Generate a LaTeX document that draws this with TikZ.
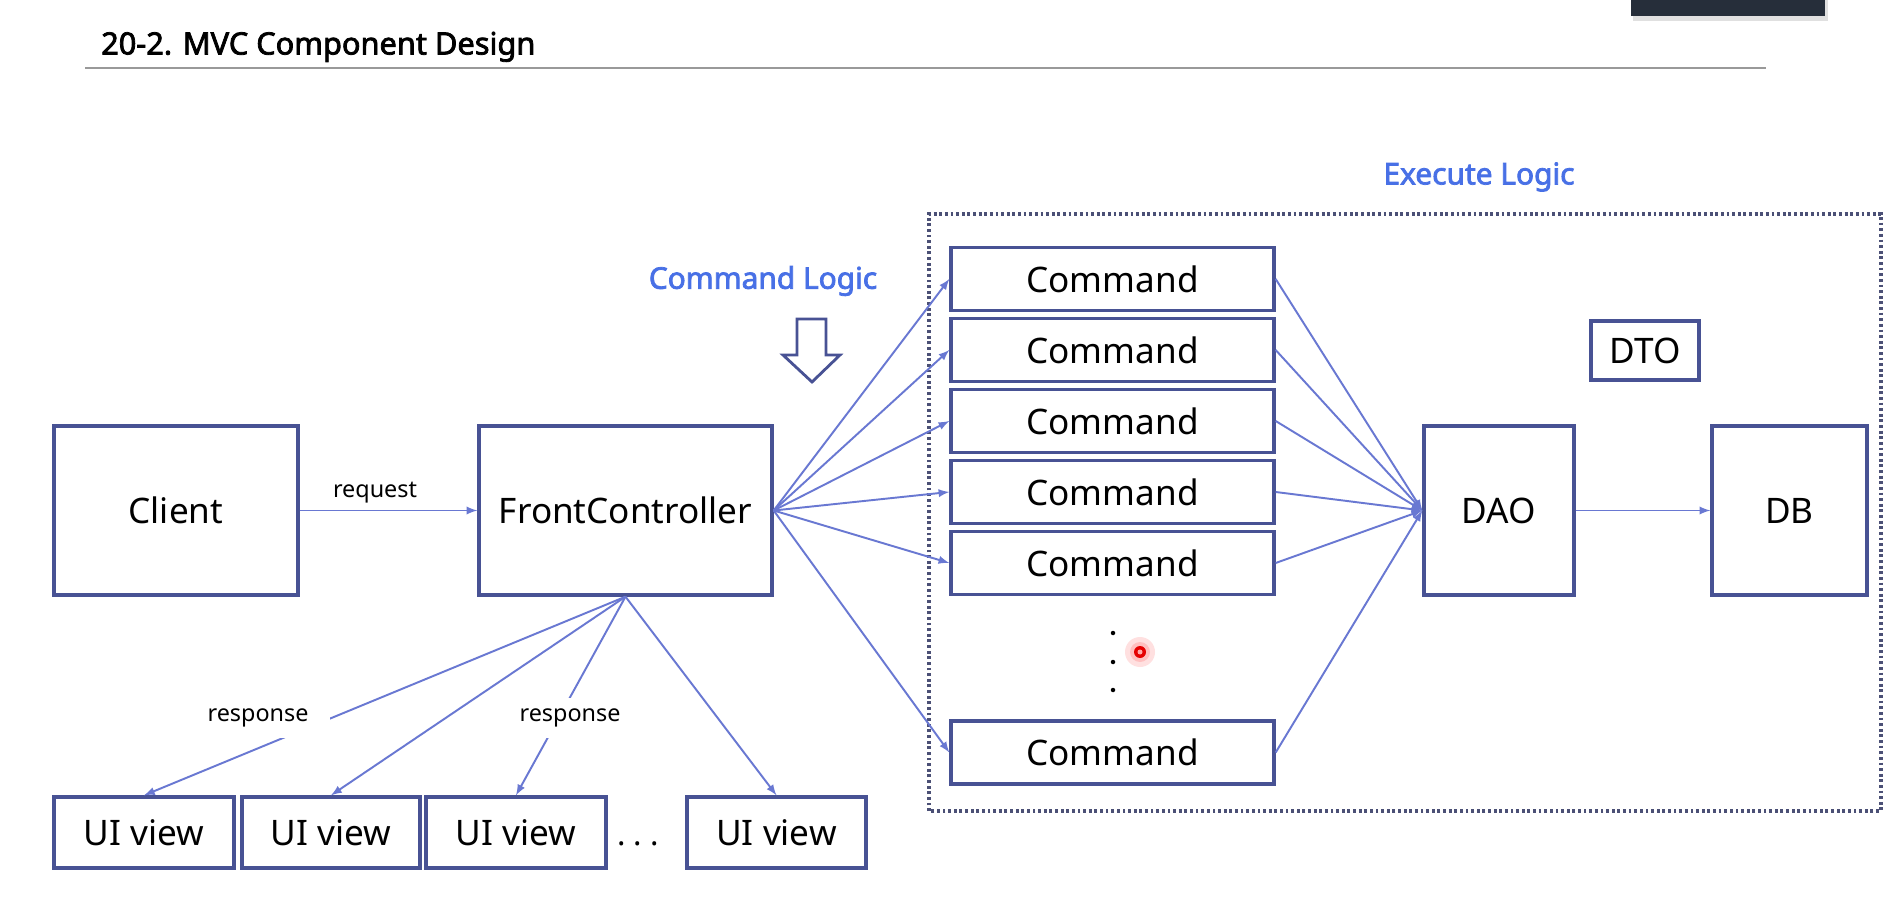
\documentclass[tikz,border=0pt]{standalone}
\usepackage{fontspec}
\setmainfont{Noto Sans}
\newfontfamily\heavysans{Noto Sans}[FakeBold=2.5]
\usetikzlibrary{arrows}
\definecolor{boxline}{RGB}{72,82,148}
\definecolor{arrowline}{RGB}{105,120,210}
\definecolor{logicblue}{RGB}{72,112,230}
\definecolor{dotline}{RGB}{75,80,118}
\definecolor{tipbar}{RGB}{38,46,58}

\begin{document}
\begin{tikzpicture}[
  comp/.style={draw=boxline,line width=1.9pt,fill=white,inner sep=0pt,font=\fontsize{20}{24}\selectfont},
  conn/.style={draw=arrowline,line width=1.1pt,-latex},
  msg/.style={inner xsep=10pt,inner ysep=6pt,font=\fontsize{13.3}{16}\selectfont},
  logic/.style={text=logicblue,font=\heavysans\fontsize{17}{20}\selectfont}]
\fill[white] (0,0) rectangle (37.98,18.32);
% heading
\node[anchor=base west,font=\heavysans\fontsize{17.5}{20}\selectfont] (title) at (1.9,17.23) {20-2. MVC Component Design};
\draw[gray!80,line width=1.4pt] (1.70,16.96) -- (35.32,16.96);
\fill[black!12] (32.66,17.90) rectangle (36.56,18.32);
\fill[tipbar] (32.62,18.0) rectangle (36.50,18.32);

% execute logic area
\draw[dotline,line width=1.8pt,dash pattern=on 1.6pt off 1.6pt] (18.58,2.10) rectangle (37.62,14.04);
\node[logic] (exec) at (29.58,14.78) {Execute Logic};
\node[logic] (cmdlogic) at (15.26,12.70) {Command Logic};
\draw[boxline,line width=1.6pt,fill=white] (15.94,11.94) -- (16.52,11.94) -- (16.52,11.22) -- (16.80,11.22) -- (16.24,10.68) -- (15.66,11.22) -- (15.94,11.22) -- cycle;

\node[comp,minimum width=4.88cm,minimum height=3.38cm] (client) at (3.52,8.11) {Client};
\node[comp,minimum width=5.86cm,minimum height=3.38cm] (fc) at (12.51,8.11) {FrontController};

\node[comp,minimum width=6.46cm,minimum height=1.26cm] (cmd1) at (22.25,12.74) {Command};
\node[comp,minimum width=6.46cm,minimum height=1.26cm] (cmd2) at (22.25,11.32) {Command};
\node[comp,minimum width=6.46cm,minimum height=1.26cm] (cmd3) at (22.25,9.90) {Command};
\node[comp,minimum width=6.46cm,minimum height=1.26cm] (cmd4) at (22.25,8.48) {Command};
\node[comp,minimum width=6.46cm,minimum height=1.26cm] (cmd5) at (22.25,7.06) {Command};
\node[comp,minimum width=6.46cm,minimum height=1.26cm] (cmd6) at (22.25,3.27) {Command};
\fill (22.26,5.66) circle (0.045);
\fill (22.26,5.08) circle (0.045);
\fill (22.26,4.52) circle (0.045);
% pointer
\fill[red!12] (22.80,5.28) circle (0.30);
\fill[red!25] (22.80,5.28) circle (0.20);
\fill[red!90!black] (22.80,5.28) circle (0.12);
\fill[red!35] (22.80,5.28) circle (0.05);

\node[comp,minimum width=2.16cm,minimum height=1.18cm] (dto) at (32.90,11.31) {DTO};
\node[comp,minimum width=3.0cm,minimum height=3.38cm] (dao) at (29.98,8.11) {DAO};
\node[comp,minimum width=3.1cm,minimum height=3.38cm] (db) at (35.79,8.11) {DB};

\node[comp,minimum width=3.6cm,minimum height=1.42cm] (ui1) at (2.88,1.67) {UI view};
\node[comp,minimum width=3.56cm,minimum height=1.42cm] (ui2) at (6.62,1.67) {UI view};
\node[comp,minimum width=3.6cm,minimum height=1.42cm] (ui3) at (10.32,1.67) {UI view};
\node[comp,minimum width=3.58cm,minimum height=1.42cm] (ui4) at (15.53,1.67) {UI view};
\node[anchor=base,font=\fontsize{18}{20}\selectfont] (more) at (12.76,1.42) {.\hspace{0.25em}.\hspace{0.25em}.};

\draw[conn] (client) -- (fc);
\node[msg] (req) at (7.50,8.46) {request};

\draw[conn] (fc.east) -- (cmd1.west);
\draw[conn] (fc.east) -- (cmd2.west);
\draw[conn] (fc.east) -- (cmd3.west);
\draw[conn] (fc.east) -- (cmd4.west);
\draw[conn] (fc.east) -- (cmd5.west);
\draw[conn] (fc.east) -- (cmd6.west);

\draw[conn] (cmd1.east) -- (dao.west);
\draw[conn] (cmd2.east) -- (dao.west);
\draw[conn] (cmd3.east) -- (dao.west);
\draw[conn] (cmd4.east) -- (dao.west);
\draw[conn] (cmd5.east) -- (dao.west);
\draw[conn] (cmd6.east) -- (dao.west);
\draw[conn] (dao) -- (db);

\draw[conn] (fc.south) -- (ui1.north);
\draw[conn] (fc.south) -- (ui2.north);
\draw[conn] (fc.south) -- (ui3.north);
\draw[conn] (fc.south) -- (ui4.north);
\node[msg,fill=white,inner xsep=12pt] (resp1) at (5.16,3.96) {response};
\node[msg,fill=white] (resp2) at (11.40,3.96) {response};
\end{tikzpicture}
\end{document}
